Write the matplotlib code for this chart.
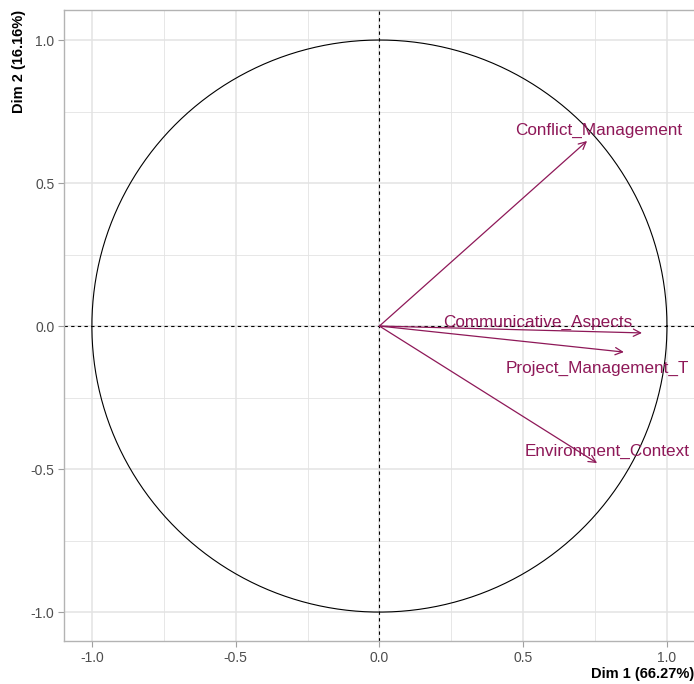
import matplotlib.pyplot as plt
import numpy as np
from matplotlib.ticker import MultipleLocator

# Variable coordinates on the first two dimensions
variables = ["Conflict_Management", "Communicative_Aspects", "Project_Management_T", "Environment_Context"]
dim1 = [0.722, 0.913, 0.850, 0.757]
dim2 = [0.647, -0.024, -0.091, -0.479]

# label anchor points (repelled away from the arrow tips)
label_x = [0.763, 0.551, 0.757, 0.793]
label_y = [0.685, 0.014, -0.147, -0.437]

xlabel = "Dim 1 (66.27%)"
ylabel = "Dim 2 (16.16%)"

VAR_COLOR = "#8E1858"
GRID = "#E3E3E3"
TICK_GREY = "#4D4D4D"

plt.rcParams["font.family"] = ["Liberation Sans", "DejaVu Sans"]

fig = plt.figure(figsize=(6.94, 6.84), dpi=100)
ax = fig.add_axes([0.0922, 0.0629, 0.9078, 0.9225])

ax.set_xlim(-1.097, 1.094)
ax.set_ylim(-1.101, 1.105)

ax.xaxis.set_major_locator(MultipleLocator(0.5))
ax.yaxis.set_major_locator(MultipleLocator(0.5))
ax.xaxis.set_minor_locator(MultipleLocator(0.25))
ax.yaxis.set_minor_locator(MultipleLocator(0.25))
ax.grid(which="major", color=GRID, linewidth=1.1, zorder=0)
ax.grid(which="minor", color=GRID, linewidth=0.6, zorder=0)
ax.set_axisbelow(True)

ax.tick_params(which="major", length=4, width=0.8, color="#A0A0A0",
               labelcolor=TICK_GREY, labelsize=10, pad=3)
ax.tick_params(which="minor", length=0)
ax.xaxis.set_major_formatter(lambda v, p: f"{v:.1f}")
ax.yaxis.set_major_formatter(lambda v, p: f"{v:.1f}")

for side in ("left", "bottom", "top"):
    ax.spines[side].set_color("#B3B3B3")
    ax.spines[side].set_linewidth(1.0)
ax.spines["right"].set_visible(False)

# correlation circle and reference lines
theta = np.linspace(0, 2 * np.pi, 400)
ax.plot(np.cos(theta), np.sin(theta), color="black", linewidth=0.8, zorder=2)
ax.axhline(0, color="black", linestyle=(0, (3, 3)), linewidth=0.8, zorder=2)
ax.axvline(0, color="black", linestyle=(0, (3, 3)), linewidth=0.8, zorder=2)

for x, y in zip(dim1, dim2):
    ax.annotate("", xy=(x, y), xytext=(0, 0),
                arrowprops=dict(arrowstyle="->", color=VAR_COLOR, lw=0.9,
                                shrinkA=0, shrinkB=0, mutation_scale=13),
                zorder=3)

for name, x, y in zip(variables, label_x, label_y):
    ax.text(x, y, name, color=VAR_COLOR, fontsize=12.3, ha="center", va="center", zorder=4)

ax.set_xlabel(xlabel, fontweight="bold", fontsize=10.5, loc="right", labelpad=2)
ax.set_ylabel(ylabel, fontweight="bold", fontsize=10.5, loc="top", labelpad=3)

fig.savefig("out.png", dpi=100)
